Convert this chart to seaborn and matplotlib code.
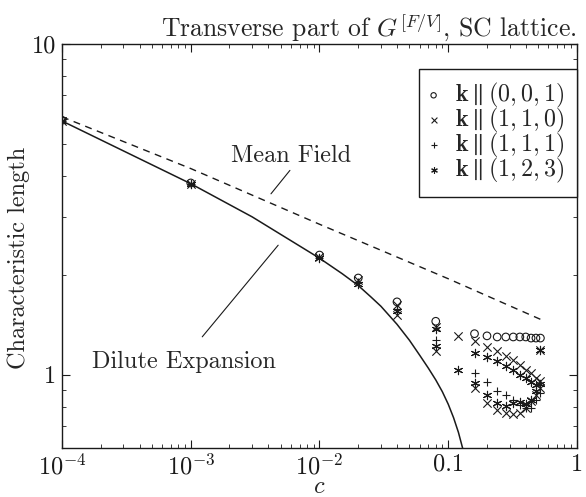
import matplotlib
matplotlib.use("Agg")
import matplotlib.pyplot as plt
import matplotlib.ticker as mticker
import seaborn as sns
import pandas as pd

# concentrations and characteristic lengths
c_001 = [1e-4, 1e-3, 1e-2, 0.02, 0.04, 0.08, 0.16, 0.20, 0.24, 0.28, 0.32, 0.36, 0.40, 0.44, 0.48, 0.52]
L_001 = [5.88, 3.80, 2.30, 1.96, 1.66, 1.45, 1.33, 1.31, 1.30, 1.30, 1.30, 1.30, 1.30, 1.29, 1.29, 1.29]

c_110 = [1e-4, 1e-3, 1e-2, 0.02, 0.04, 0.08, 0.12, 0.16, 0.20, 0.24, 0.28, 0.32, 0.36, 0.40, 0.44, 0.48, 0.52,
         0.04, 0.08, 0.16, 0.20, 0.24, 0.28, 0.32, 0.36, 0.40, 0.44, 0.48, 0.52, 0.52]
L_110 = [5.85, 3.78, 2.27, 1.93, 1.62, 1.39, 1.31, 1.26, 1.21, 1.18, 1.14, 1.11, 1.07, 1.035, 1.01, 0.98, 0.955,
         1.51, 1.18, 0.91, 0.82, 0.78, 0.765, 0.76, 0.765, 0.79, 0.83, 0.87, 0.91, 1.19]

c_111 = [1e-4, 1e-3, 1e-2, 0.02, 0.04, 0.08, 0.16, 0.20, 0.24, 0.28, 0.32, 0.36, 0.40, 0.44, 0.48, 0.52]
L_111 = [5.85, 3.78, 2.25, 1.90, 1.58, 1.27, 1.01, 0.948, 0.895, 0.87, 0.84, 0.81, 0.79, 0.79, 0.84, 0.88]

c_123 = [1e-4, 1e-3, 1e-2, 0.02, 0.04, 0.08, 0.16, 0.20, 0.24, 0.28, 0.32, 0.36, 0.40, 0.44, 0.48, 0.52,
         0.08, 0.12, 0.16, 0.20, 0.24, 0.28, 0.32, 0.36, 0.40, 0.44, 0.48, 0.52]
L_123 = [5.85, 3.78, 2.25, 1.88, 1.56, 1.37, 1.16, 1.13, 1.10, 1.065, 1.03, 1.0, 0.975, 0.95, 0.93, 1.19,
         1.22, 1.035, 0.945, 0.868, 0.82, 0.805, 0.82, 0.825, 0.815, 0.84, 0.89, 0.94]

# theory curves
mf_c = [1e-4, 1e-3, 1e-2, 0.1, 0.52]
mf_L = [6.02, 4.2, 2.85, 1.95, 1.47]

dil_c = [1e-4, 1e-3, 3e-3, 1e-2, 0.015, 0.02, 0.025, 0.03, 0.04, 0.05, 0.06, 0.07, 0.08, 0.09,
         0.10, 0.11, 0.12, 0.13]
dil_L = [5.85, 3.78, 3.0, 2.25, 2.02, 1.86, 1.72, 1.61, 1.42, 1.27, 1.145, 1.047, 0.964, 0.888,
         0.814, 0.741, 0.669, 0.595]

labels = [r"$\mathbf{k}\parallel(0,0,1)$", r"$\mathbf{k}\parallel(1,1,0)$",
          r"$\mathbf{k}\parallel(1,1,1)$", r"$\mathbf{k}\parallel(1,2,3)$"]
xtick_vals = [1e-4, 1e-3, 1e-2, 0.1, 1]
xtick_labels = [r"$10^{-4}$", r"$10^{-3}$", r"$10^{-2}$", "0.1", "1"]
ytick_vals = [1, 10]
ytick_labels = ["1", "10"]

sns.set_theme(style="ticks")
plt.rcParams["font.family"] = "serif"
plt.rcParams["font.serif"] = ["cmr10"]
plt.rcParams["mathtext.fontset"] = "cm"
plt.rcParams["axes.formatter.use_mathtext"] = True
plt.rcParams["axes.unicode_minus"] = False

FS = 17.5

fig = plt.figure(figsize=(5.86, 4.97), dpi=100)
ax = fig.add_axes([0.1058, 0.0986, 0.8788, 0.8129])

sns.lineplot(x=mf_c, y=mf_L, ax=ax, color="k", lw=1.0, linestyle=(0, (5, 4)), estimator=None)
sns.lineplot(x=dil_c, y=dil_L, ax=ax, color="k", lw=1.1, estimator=None)

series = [(c_001, L_001, "o"), (c_110, L_110, "x"), (c_111, L_111, "+"), (c_123, L_123, (6, 2, 0))]
for (cs, Ls, m), lab in zip(series, labels):
    df = pd.DataFrame({"c": cs, "L": Ls})
    if m == "o":
        sns.scatterplot(data=df, x="c", y="L", ax=ax, marker="o", s=30,
                        facecolor="none", edgecolor="k", linewidth=0.8, label=lab)
    else:
        sns.scatterplot(data=df, x="c", y="L", ax=ax, marker=m, s=36,
                        color="k", linewidth=0.8, label=lab)

ax.set_xscale("log")
ax.set_yscale("log")
ax.set_xlim(1e-4, 1)
ax.set_ylim(0.6, 10)

ax.xaxis.set_major_locator(mticker.FixedLocator(xtick_vals))
ax.xaxis.set_major_formatter(mticker.FixedFormatter(xtick_labels))
ax.yaxis.set_major_locator(mticker.FixedLocator(ytick_vals))
ax.yaxis.set_major_formatter(mticker.FixedFormatter(ytick_labels))
ax.xaxis.set_minor_locator(mticker.LogLocator(base=10, subs=range(2, 10)))
ax.yaxis.set_minor_locator(mticker.LogLocator(base=10, subs=range(2, 10)))
ax.xaxis.set_minor_formatter(mticker.NullFormatter())
ax.yaxis.set_minor_formatter(mticker.NullFormatter())
ax.tick_params(which="both", direction="in", top=True, right=True, colors="k", labelsize=FS)
ax.tick_params(which="major", length=6, width=0.8, pad=4)
ax.tick_params(which="minor", length=3, width=0.6)
for sp in ax.spines.values():
    sp.set_color("k")
    sp.set_linewidth(1.0)

ax.set_xlabel(r"$c$", fontsize=FS, labelpad=-2)
ax.set_ylabel("Characteristic length", fontsize=FS)
ax.yaxis.set_label_coords(-0.062, 0.47)
ax.set_title(r"Transverse part of $G^{[F/V]}$, SC lattice.", loc="right", fontsize=18.5, pad=5)

ax.text(6.0e-3, 4.59, "Mean Field", fontsize=FS, ha="center", va="center")
ax.annotate("", xy=(4.07e-3, 3.47), xytext=(6.08e-3, 4.21),
            arrowprops=dict(arrowstyle="-", color="k", lw=0.8))
ax.text(8.79e-4, 1.095, "Dilute Expansion", fontsize=FS, ha="center", va="center")
ax.annotate("", xy=(4.93e-3, 2.50), xytext=(1.19e-3, 1.282),
            arrowprops=dict(arrowstyle="-", color="k", lw=0.8))

leg = ax.legend(loc="upper right", bbox_to_anchor=(1.0, 0.938), borderaxespad=0,
                fontsize=17.3, markerscale=0.7, frameon=True, fancybox=False,
                edgecolor="k", framealpha=1, handlelength=0.2, handletextpad=0.8,
                labelspacing=-0.18, borderpad=0.5)
leg.get_frame().set_linewidth(1.0)

fig.savefig("out.png", dpi=100)
